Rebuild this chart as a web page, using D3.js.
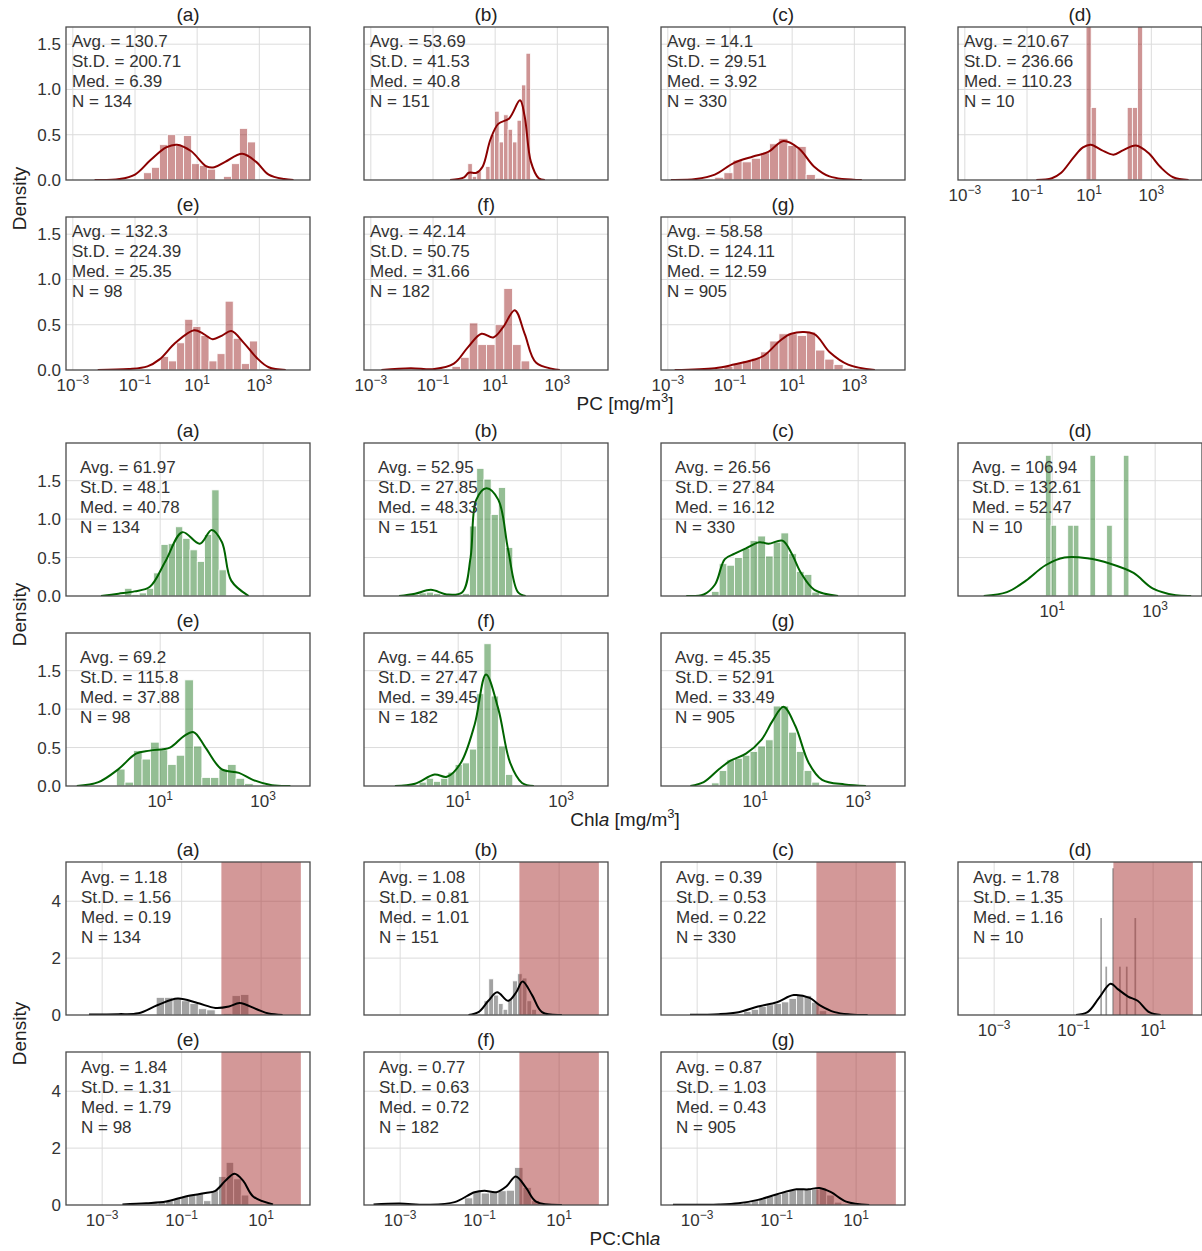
<!DOCTYPE html>
<html>
<head>
<meta charset="utf-8">
<script src="https://cdn.jsdelivr.net/npm/d3@7"></script>
<style>
  body { margin: 0; background: #fff; }
  svg { font-family: "Liberation Sans", Arial, sans-serif; }
</style>
</head>
<body>
<svg id="chart" width="1202" height="1251"></svg>
<script>
// panel order: a b c d e f g
var panelNames = ["(a)", "(b)", "(c)", "(d)", "(e)", "(f)", "(g)"];
var panelN = [134, 151, 330, 10, 98, 182, 905];

// ---- PC ----
var pcAvg = ["130.7", "53.69", "14.1", "210.67", "132.3", "42.14", "58.58"];
var pcStd = ["200.71", "41.53", "29.51", "236.66", "224.39", "50.75", "124.11"];
var pcMed = ["6.39", "40.8", "3.92", "110.23", "25.35", "31.66", "12.59"];
var pcBinStart = [-0.98, 0.12, -1.49, 0.9, -0.18, -0.39, -1.49];
var pcBinWidth = [0.257, 0.144, 0.294, 0.1655, 0.26, 0.278, 0.295];
var pcBinHeights = [
  [0.01, 0.08, 0.14, 0.39, 0.5, 0.38, 0.49, 0.18, 0.16, 0.12, 0.0, 0.04, 0.18, 0.57, 0.42],
  [0.18, 0.04, 0.1, 0.0, 0.15, 0.5, 0.76, 0.42, 0.72, 0.56, 0.42, 0.66, 1.05, 1.4],
  [0.03, 0.08, 0.22, 0.2, 0.24, 0.3, 0.4, 0.46, 0.38, 0.37, 0.06, 0.02],
  [1.9, 0.8, 0, 0, 0, 0, 0, 0, 0.8, 0.8, 1.9],
  [0.15, 0.1, 0.3, 0.56, 0.48, 0.38, 0.1, 0.18, 0.76, 0.35, 0.07, 0.32],
  [0.04, 0.14, 0.52, 0.28, 0.28, 0.5, 0.9, 0.28, 0.1, 0.0],
  [0.02, 0.04, 0.07, 0.1, 0.13, 0.2, 0.32, 0.4, 0.4, 0.38, 0.42, 0.22, 0.12, 0.06, 0.02]
];
var pcKde = [
  [[-2.3,0],[-1.5,0.01],[-1.0,0.06],[-0.5,0.22],[0,0.36],[0.35,0.39],[0.8,0.32],[1.3,0.15],[1.55,0.14],[1.9,0.2],[2.45,0.29],[2.9,0.2],[3.3,0.06],[3.8,0.01],[4.1,0]],
  [[-0.45,0],[0.0,0.03],[0.15,0.08],[0.4,0.08],[0.6,0.15],[0.85,0.45],[1.1,0.62],[1.45,0.68],[1.8,0.88],[1.95,0.7],[2.15,0.2],[2.4,0.02],[2.6,0]],
  [[-2.9,0],[-2.1,0.01],[-1.49,0.06],[-0.87,0.19],[-0.26,0.26],[0.23,0.31],[0.72,0.43],[1.21,0.35],[1.7,0.15],[2.2,0.04],[3.24,0]],
  [[-0.7,0],[-0.2,0.02],[0.1,0.08],[0.5,0.25],[0.8,0.36],[1.05,0.39],[1.4,0.33],[1.78,0.28],[2.1,0.33],[2.5,0.38],[2.9,0.3],[3.3,0.14],[3.7,0.03],[4.2,0]],
  [[-2.2,0],[-1.2,0.01],[-0.6,0.04],[-0.2,0.12],[0.3,0.3],[0.9,0.44],[1.2,0.4],[1.5,0.34],[1.8,0.38],[2.1,0.43],[2.5,0.3],[2.9,0.14],[3.3,0.03],[3.85,0]],
  [[-2.66,0],[-1.72,0.02],[-0.96,0.01],[-0.33,0.07],[0.12,0.25],[0.56,0.4],[0.94,0.36],[1.25,0.47],[1.63,0.66],[1.95,0.4],[2.32,0.08],[3.08,0]],
  [[-2.78,0],[-1.49,0.02],[-0.87,0.06],[-0.26,0.11],[0.1,0.16],[0.6,0.32],[0.97,0.4],[1.7,0.4],[2.2,0.2],[2.8,0.06],[3.66,0]]
];

// ---- Chla ----
var chlAvg = ["61.97", "52.95", "26.56", "106.94", "69.2", "44.65", "45.35"];
var chlStd = ["48.1", "27.85", "27.84", "132.61", "115.8", "27.47", "52.91"];
var chlMed = ["40.78", "48.33", "16.12", "52.47", "37.88", "39.45", "33.49"];
var chlBinStart = [0.31, 0.1, 0.15, 0.87, 0.15, 0.24, 0.15];
var chlBinWidth = [0.141, 0.14, 0.15, 0.108, 0.166, 0.14, 0.15];
var chlBinHeights = [
  [0.1, 0.02, 0.04, 0.1, 0.3, 0.67, 0.68, 0.9, 0.75, 0.6, 0.45, 0.8, 1.38, 0.34],
  [0.02, 0.04, 0.05, 0.03, 0.0, 0.0, 0.0, 0.03, 0.91, 1.66, 1.52, 1.06, 1.41, 0.63],
  [0.06, 0.42, 0.4, 0.5, 0.62, 0.72, 0.78, 0.52, 0.7, 0.82, 0.55, 0.32, 0.28, 0.05],
  [1.83, 0.92, 0, 0, 0.92, 0.92, 0, 0, 1.83, 0, 0, 0.92, 0, 0, 1.83],
  [0.22, 0.05, 0.46, 0.35, 0.57, 0.47, 0.28, 0.4, 1.38, 0.52, 0.11, 0.11, 0.22, 0.28, 0.1, 0.03],
  [0.05, 0.1, 0.06, 0.1, 0.18, 0.28, 0.3, 0.48, 1.2, 1.85, 1.17, 0.52, 0.15],
  [0.04, 0.2, 0.34, 0.36, 0.4, 0.45, 0.52, 0.6, 1.04, 1.04, 0.7, 0.45, 0.2, 0.05]
];
var chlKde = [
  [[-0.15,0],[0.19,0.03],[0.5,0.06],[0.8,0.12],[1.1,0.45],[1.43,0.83],[1.77,0.68],[2.0,0.86],[2.2,0.7],[2.38,0.2],[2.72,0]],
  [[-0.15,0],[0.16,0.03],[0.47,0.08],[0.78,0.02],[1.08,0.05],[1.24,0.5],[1.35,1.25],[1.55,1.4],[1.78,1.25],[1.97,0.6],[2.16,0.05],[2.31,0]],
  [[-0.34,0],[0.0,0.02],[0.22,0.15],[0.41,0.48],[0.6,0.55],[0.82,0.62],[1.08,0.7],[1.26,0.68],[1.53,0.72],[1.71,0.55],[1.89,0.3],[2.15,0.08],[2.61,0]],
  [[-0.33,0],[0.12,0.05],[0.49,0.2],[0.87,0.4],[1.24,0.5],[1.68,0.49],[2.13,0.42],[2.58,0.3],[2.95,0.1],[3.4,0.01],[3.7,0]],
  [[-0.62,0],[-0.2,0.05],[0.19,0.22],[0.53,0.42],[0.8,0.46],[1.19,0.5],[1.46,0.65],[1.65,0.7],[1.88,0.5],[2.19,0.22],[2.53,0.17],[2.8,0.08],[3.17,0.01],[3.53,0]],
  [[-0.23,0],[0.16,0.03],[0.54,0.15],[0.78,0.12],[1.05,0.3],[1.32,0.8],[1.54,1.45],[1.78,1.0],[2.01,0.3],[2.24,0.04],[2.47,0]],
  [[-0.26,0],[0.0,0.05],[0.3,0.22],[0.52,0.33],[0.82,0.42],[1.12,0.6],[1.34,0.85],[1.55,1.03],[1.78,0.78],[2.04,0.3],[2.3,0.08],[2.74,0.02],[3.15,0]]
];

// ---- PC:Chla ----
var ratAvg = ["1.18", "1.08", "0.39", "1.78", "1.84", "0.77", "0.87"];
var ratStd = ["1.56", "0.81", "0.53", "1.35", "1.31", "0.63", "1.03"];
var ratMed = ["0.19", "1.01", "0.22", "1.16", "1.79", "0.72", "0.43"];
var ratBinStart = [-1.64, -0.89, -2.02, -0.33, -1.59, -1.38, -2.02];
var ratBinWidth = [0.212, 0.12, 0.19, 0.043, 0.19, 0.21, 0.19];
var ratBinHeights = [
  [0.62, 0.62, 0.6, 0.5, 0.4, 0.22, 0.18, 0.0, 0.05, 0.68, 0.72],
  [0.5, 1.27, 0.7, 0.4, 0.2, 0.55, 1.2, 1.45, 1.3, 0.5, 0.2],
  [0.04, 0.12, 0.2, 0.3, 0.36, 0.4, 0.46, 0.58, 0.72, 0.68, 0.45, 0.15],
  [3.41, 0, 0, 1.7, 0, 0, 0, 5.16, 0, 0, 0, 1.7, 0, 0, 0, 1.7, 0, 0, 0, 0, 3.41],
  [0.1, 0.15, 0.22, 0.3, 0.36, 0.4, 0.15, 0.5, 1.0, 1.5, 0.92, 0.35],
  [0.25, 0.48, 0.42, 0.45, 0.5, 0.52, 1.32, 0.62, 0.15],
  [0.03, 0.08, 0.15, 0.22, 0.3, 0.38, 0.45, 0.52, 0.55, 0.55, 0.55, 0.6, 0.35, 0.1]
];
var ratKde = [
  [[-3.33,0.02],[-2.59,0.03],[-2.09,0.06],[-1.6,0.35],[-1.1,0.58],[-0.6,0.42],[-0.15,0.25],[0.19,0.3],[0.46,0.42],[0.89,0.2],[1.19,0.05],[1.54,0]],
  [[-1.28,0],[-1.03,0.1],[-0.78,0.5],[-0.56,0.8],[-0.28,0.5],[-0.08,0.8],[0.08,1.18],[0.32,0.7],[0.57,0.1],[1.07,0]],
  [[-3.18,0.01],[-2.45,0.03],[-1.96,0.1],[-1.47,0.3],[-0.99,0.45],[-0.57,0.7],[-0.17,0.6],[0.08,0.35],[0.46,0.1],[0.85,0.02],[1.29,0]],
  [[-0.94,0],[-0.65,0.1],[-0.36,0.6],[-0.07,1.1],[0.12,0.9],[0.37,0.65],[0.61,0.5],[0.9,0.1],[1.19,0]],
  [[-2.49,0.02],[-1.89,0.06],[-1.39,0.12],[-0.9,0.3],[-0.4,0.42],[-0.15,0.5],[0.1,0.85],[0.33,1.1],[0.55,0.85],[0.8,0.3],[1.3,0.02]],
  [[-3.67,0.02],[-3.02,0.05],[-2.32,0.01],[-1.63,0.1],[-1.13,0.45],[-0.88,0.5],[-0.58,0.45],[-0.33,0.65],[-0.09,1.0],[0.17,0.6],[0.42,0.12],[1.07,0]],
  [[-3.61,0.01],[-2.45,0.02],[-1.96,0.06],[-1.47,0.18],[-0.99,0.38],[-0.5,0.55],[-0.2,0.55],[0.08,0.6],[0.37,0.45],[0.75,0.12],[1.33,0]]
];
var ratShade = [0, 2]; // log10 range of shaded PC:Chla > 1 band

var sections = [
  { top: 27, xDom: [-3.22, 4.63], yDom: [0, 1.69], xTicks: [-3, -1, 1, 3], yTicks: [0, 0.5, 1.0, 1.5], yFmt: d3.format(".1f"),
    avg: pcAvg, std: pcStd, med: pcMed, bs: pcBinStart, bw: pcBinWidth, bh: pcBinHeights, kde: pcKde,
    bar: "#8b0000", line: "#8b0000", txtDx: 6, txtDy: 15, label: "pc", labelY: 410 },
  { top: 443, xDom: [-0.83, 3.91], yDom: [0, 1.99], xTicks: [1, 3], yTicks: [0, 0.5, 1.0, 1.5], yFmt: d3.format(".1f"),
    avg: chlAvg, std: chlStd, med: chlMed, bs: chlBinStart, bw: chlBinWidth, bh: chlBinHeights, kde: chlKde,
    bar: "#006400", line: "#006400", txtDx: 14, txtDy: 25, label: "chl", labelY: 826 },
  { top: 862, xDom: [-3.91, 2.23], yDom: [0, 5.38], xTicks: [-3, -1, 1], yTicks: [0, 2, 4], yFmt: d3.format("d"),
    avg: ratAvg, std: ratStd, med: ratMed, bs: ratBinStart, bw: ratBinWidth, bh: ratBinHeights, kde: ratKde,
    bar: "#222", line: "#000", txtDx: 15, txtDy: 16, label: "rat", labelY: 1245, shade: ratShade }
];

var colX = [66, 364, 661, 958];
var rowDY = [0, 190];
var pw = 244, ph = 153;
var cells = [[0,0],[0,1],[0,2],[0,3],[1,0],[1,1],[1,2]];

var svg = d3.select("#chart");
var defs = svg.append("defs");

sections.forEach(function(sec, si) {
  cells.forEach(function(rc, pi) {
    var row = rc[0], col = rc[1];
    var x0 = colX[col], y0 = sec.top + rowDY[row];
    var x = d3.scaleLinear().domain(sec.xDom).range([0, pw]);
    var y = d3.scaleLinear().domain(sec.yDom).range([ph, 0]);
    var id = "clip" + si + "_" + pi;
    defs.append("clipPath").attr("id", id).append("rect").attr("width", pw).attr("height", ph);

    var g = svg.append("g").attr("transform", "translate(" + x0 + "," + y0 + ")");
    var inner = g.append("g").attr("clip-path", "url(#" + id + ")");

    // grid
    inner.selectAll(".gx").data(sec.xTicks).join("line")
      .attr("x1", d => x(d)).attr("x2", d => x(d)).attr("y1", 0).attr("y2", ph)
      .attr("stroke", "#dcdcdc").attr("stroke-width", 1);
    inner.selectAll(".gy").data(sec.yTicks.slice(1)).join("line")
      .attr("y1", d => y(d)).attr("y2", d => y(d)).attr("x1", 0).attr("x2", pw)
      .attr("stroke", "#dcdcdc").attr("stroke-width", 1);

    // histogram
    var bins = sec.bh[pi].map(function(h, i) { return { lo: sec.bs[pi] + i * sec.bw[pi], w: sec.bw[pi], h: h }; })
      .filter(d => d.h > 0);
    inner.selectAll(".bar").data(bins).join("rect")
      .attr("x", d => x(d.lo)).attr("width", d => Math.max(0.8, x(d.lo + d.w) - x(d.lo)))
      .attr("y", d => y(d.h)).attr("height", d => y(0) - y(d.h))
      .attr("fill", sec.bar).attr("fill-opacity", 0.42)
      .attr("stroke", "#fff").attr("stroke-width", pi === 3 && si === 2 ? 0 : 0.8);

    // shaded band
    if (sec.shade) {
      inner.append("rect").attr("x", x(sec.shade[0])).attr("width", x(sec.shade[1]) - x(sec.shade[0]))
        .attr("y", 0).attr("height", ph).attr("fill", "#a83232").attr("fill-opacity", 0.5);
    }

    // KDE
    var line = d3.line().x(d => x(d[0])).y(d => y(d[1])).curve(d3.curveCatmullRom.alpha(0.5));
    inner.append("path").datum(sec.kde[pi]).attr("d", line)
      .attr("fill", "none").attr("stroke", sec.line).attr("stroke-width", 2);

    // frame
    g.append("rect").attr("width", pw).attr("height", ph).attr("fill", "none")
      .attr("stroke", "#4a4a4a").attr("stroke-width", 1.3);

    // title
    g.append("text").attr("x", pw / 2).attr("y", -6).attr("text-anchor", "middle")
      .attr("font-size", 19).attr("fill", "#222").text(panelNames[pi]);

    // stats
    var lines = ["Avg. = " + sec.avg[pi], "St.D. = " + sec.std[pi], "Med. = " + sec.med[pi], "N = " + panelN[pi]];
    g.selectAll(".st").data(lines).join("text")
      .attr("x", sec.txtDx).attr("y", (d, i) => sec.txtDy + 5 + i * 20)
      .attr("font-size", 17).attr("fill", "#333").text(d => d);

    // y ticks
    if (col === 0) {
      g.selectAll(".yt").data(sec.yTicks).join("text")
        .attr("x", -5).attr("y", d => y(d) + 6).attr("text-anchor", "end")
        .attr("font-size", 17).attr("fill", "#333").text(d => sec.yFmt(d));
    }
    // x ticks
    if (row === 1 || col === 3) {
      var t = g.selectAll(".xt").data(sec.xTicks).join("text")
        .attr("y", ph + 21).attr("text-anchor", "middle").attr("font-size", 17).attr("fill", "#333")
        .attr("x", d => x(d));
      t.append("tspan").text("10");
      t.append("tspan").attr("dy", -7).attr("font-size", 12).text(d => (d < 0 ? "\u2212" : "") + Math.abs(d));
    }
  });

  // Density label
  var midY = sec.top + (rowDY[1] + ph) / 2;
  svg.append("text").attr("transform", "translate(26," + midY + ") rotate(-90)")
    .attr("text-anchor", "middle").attr("font-size", 19).attr("fill", "#222").text("Density");

  // x axis label
  var xl = svg.append("text").attr("x", 625).attr("y", sec.labelY).attr("text-anchor", "middle")
    .attr("font-size", 19).attr("fill", "#222");
  if (sec.label === "pc") {
    xl.append("tspan").text("PC [mg/m");
    xl.append("tspan").attr("dy", -8).attr("font-size", 13).text("3");
    xl.append("tspan").attr("dy", 8).text("]");
  } else if (sec.label === "chl") {
    xl.append("tspan").text("Chl");
    xl.append("tspan").attr("font-style", "italic").text("a");
    xl.append("tspan").text(" [mg/m");
    xl.append("tspan").attr("dy", -8).attr("font-size", 13).text("3");
    xl.append("tspan").attr("dy", 8).text("]");
  } else {
    xl.append("tspan").text("PC:Chl");
    xl.append("tspan").attr("font-style", "italic").text("a");
  }
});
</script>
</body>
</html>
